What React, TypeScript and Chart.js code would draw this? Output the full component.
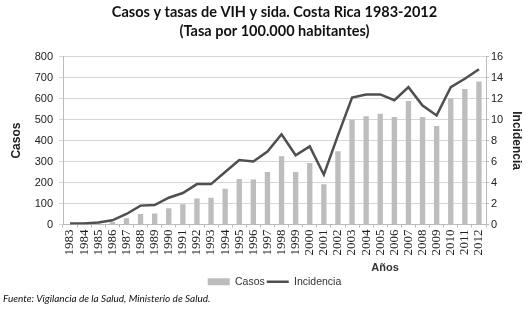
import React, { useEffect, useRef } from "react";
import { Chart, registerables } from "chart.js";

Chart.register(...registerables);

const years = ["1983","1984","1985","1986","1987","1988","1989","1990","1991","1992","1993","1994","1995","1996","1997","1998","1999","2000","2001","2002","2003","2004","2005","2006","2007","2008","2009","2010","2011","2012"];
const casos = [2,3,5,12,30,50,53,78,96,124,128,171,217,214,250,325,250,293,192,349,500,516,528,512,589,512,470,601,646,682];
const incidencia = [0.1,0.1,0.2,0.4,1.0,1.8,1.85,2.55,3.0,3.85,3.85,5.0,6.15,6.0,6.95,8.6,6.6,7.45,4.75,8.5,12.1,12.4,12.4,11.85,13.1,11.35,10.4,13.1,13.9,14.8];
const titleLines = ["Casos y tasas de VIH y sida. Costa Rica 1983-2012", "(Tasa por 100.000 habitantes)"];
const xTitle = "Años";
const sourceText = "Fuente: Vigilancia de la Salud, Ministerio de Salud.";

const extraText = {
  id: "extraText",
  afterDraw(chart: any) {
    const ctx = chart.ctx;
    ctx.save();
    ctx.fillStyle = "#333";
    ctx.font = "bold 11px 'Liberation Sans'";
    ctx.textAlign = "center";
    ctx.textBaseline = "middle";
    ctx.fillText(xTitle, 385, 268);
    ctx.fillStyle = "#111";
    ctx.font = "italic 10px Lato";
    ctx.textAlign = "left";
    ctx.textBaseline = "alphabetic";
    ctx.fillText(sourceText, 3, 302);
    ctx.restore();
  },
};

export default function App() {
  const ref = useRef<HTMLCanvasElement>(null);
  useEffect(() => {
    if (!ref.current) return;
    const chart = new Chart(ref.current, {
      type: "bar",
      data: {
        labels: years,
        datasets: [
          {
            type: "bar",
            label: "Casos",
            data: casos,
            backgroundColor: "#bdbdbd",
            borderWidth: 0,
            barPercentage: 0.42,
            categoryPercentage: 0.9,
            yAxisID: "y",
            order: 1,
          },
          {
            type: "line",
            label: "Incidencia",
            data: incidencia,
            borderColor: "#4f4f4f",
            backgroundColor: "#4f4f4f",
            borderWidth: 2.5,
            pointRadius: 0,
            tension: 0,
            yAxisID: "y1",
            order: 0,
          } as any,
        ],
      },
      options: {
        responsive: false,
        animation: false,
        layout: { padding: { left: 5, right: 5, top: 0, bottom: 21 } },
        plugins: {
          title: {
            display: true,
            fullSize: false,
            text: titleLines,
            color: "#111",
            font: { family: "Lato", size: 14.5, weight: "bold", lineHeight: 1.3 },
            padding: { top: 3, bottom: 16 },
          },
          legend: {
            position: "bottom",
            fullSize: false,
            labels: {
              color: "#333",
              font: { family: "Liberation Sans", size: 10.5 },
              usePointStyle: true,
              pointStyleWidth: 22,
              boxHeight: 7,
              padding: 2,
              sort: (a: any, b: any) => a.datasetIndex - b.datasetIndex,
              generateLabels(chart: any) {
                const items = Chart.defaults.plugins.legend.labels.generateLabels(chart);
                items.forEach((it: any) => {
                  if (it.datasetIndex === 0) {
                    it.pointStyle = "rect";
                    it.lineWidth = 0;
                    it.fillStyle = "#bdbdbd";
                    it.strokeStyle = "#bdbdbd";
                  } else {
                    it.pointStyle = "line";
                    it.lineWidth = 2.5;
                    it.strokeStyle = "#4f4f4f";
                  }
                });
                return items;
              },
            },
          },
          tooltip: { enabled: false },
        },
        scales: {
          x: {
            grid: { drawOnChartArea: false, drawTicks: true, tickLength: 3, color: "#bbb" },
            border: { color: "#bbb" },
            ticks: {
              autoSkip: false,
              minRotation: 90,
              maxRotation: 90,
              padding: 2,
              color: "#222",
              font: { family: "Liberation Serif", size: 13 },
            },
            afterFit(scale: any) { scale.height = 50; },
          },
          y: {
            position: "left",
            min: 0,
            max: 800,
            ticks: { stepSize: 100, padding: 6, color: "#222", font: { family: "Liberation Sans", size: 11 } },
            grid: { color: "#d6d6d6", tickLength: 4 },
            border: { color: "#bbb" },
            title: { display: true, text: "Casos", color: "#222", font: { family: "Liberation Sans", size: 12, weight: "bold" }, padding: { top: 4, bottom: 0 } },
            afterFit(scale: any) { scale.width = 58; },
          },
          y1: {
            position: "right",
            min: 0,
            max: 16,
            ticks: { stepSize: 2, padding: 2, color: "#222", font: { family: "Liberation Sans", size: 11 } },
            grid: { drawOnChartArea: false, tickLength: 3, color: "#bbb" },
            border: { color: "#bbb" },
            title: { display: true, text: "Incidencia", color: "#222", font: { family: "Liberation Sans", size: 12, weight: "bold" }, padding: { top: 2, bottom: 0 } },
            afterFit(scale: any) { scale.width = 40; },
          },
        },
      },
      plugins: [extraText],
    } as any);
    return () => chart.destroy();
  }, []);
  return (
    <div style={{ position: "fixed", left: 0, top: 0, width: 531, height: 318, background: "#fff" }}>
      <canvas ref={ref} width={531} height={318} style={{ width: 531, height: 318 }} />
    </div>
  );
}
